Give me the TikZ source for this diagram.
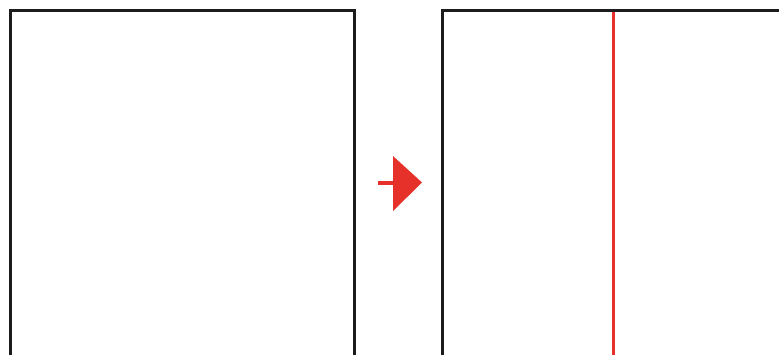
\documentclass[tikz,border=0pt]{standalone}
\definecolor{frame}{HTML}{1C1C1C}
\definecolor{cutred}{HTML}{E5312A}
\begin{document}
\begin{tikzpicture}[x=1pt,y=-1pt,
  sheet/.style={draw=frame,line width=3.2pt,line join=miter},
  cutline/.style={draw=cutred,line width=3pt},
  arrowstem/.style={draw=cutred,line width=4pt}]
\useasboundingbox (0,0) rectangle (779,354);
\fill[white] (0,0) rectangle (779,354);
% left sheet
\draw[sheet] (10.5,356) -- (10.5,10.5) -- (354.5,10.5) -- (354.5,356);
% right sheet
\draw[sheet] (442.5,356) -- (442.5,10.5) -- (781,10.5);
% cut line
\coordinate (ctop) at (613.5,12);
\coordinate (cbot) at (613.5,356);
\draw[cutline] (ctop) -- (cbot);
% arrow
\coordinate (stemA) at (378,182.5);
\coordinate (stemB) at (394,182.5);
\draw[arrowstem] (stemA) -- (stemB);
\fill[cutred] (393,156) -- (422,182.5) -- (393,211) -- cycle;
\end{tikzpicture}
\end{document}
